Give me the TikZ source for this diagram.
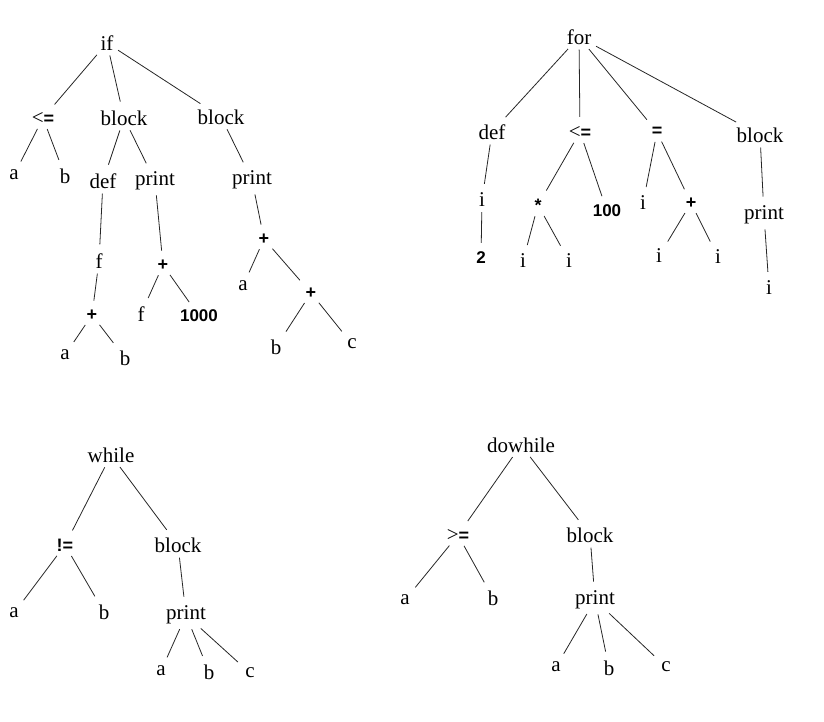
\documentclass[tikz,border=0pt]{standalone}
\usepackage{fontspec}
\setmainfont{Liberation Serif}
\newfontfamily\opsans{Liberation Sans}
\tikzset{
  w/.style={inner sep=2pt, font=\fontsize{21}{25}\selectfont},
  op/.style={inner sep=2pt, font=\opsans\fontsize{18}{21}\selectfont\bfseries},
  num/.style={inner sep=2pt, font=\opsans\fontsize{17}{20}\selectfont\bfseries},
  br/.style={draw=black!85, line width=0.8pt, shorten >=7pt, shorten <=3pt}
}
\newcommand{\thinlt}{{\fontsize{21}{25}\selectfont\rmfamily\mdseries <}}
\newcommand{\thingt}{{\fontsize{21}{25}\selectfont\rmfamily\mdseries >}}
\begin{document}
\begin{tikzpicture}[x=1pt,y=-1pt]
\useasboundingbox (0,0) rectangle (824,721);
% ---------- if tree ----------
\node[w] (if) at (107,43) {if};
\node[op] (le1) at (43,118) {\thinlt=};
\node[w] (blk1) at (124,118) {block};
\node[w] (blk2) at (221,117) {block};
\node[w] (a1) at (14,175) {a};
\node[w] (b1) at (65,176) {b};
\node[w] (def1) at (103,181) {def};
\node[w] (pr1) at (155,181) {print};
\node[w] (pr2) at (252,180) {print};
\node[w] (f1) at (99,261) {f};
\node[op] (pl1) at (163,265) {+};
\node[op] (pl2) at (264,239) {+};
\node[op] (pl3) at (92,315) {+};
\node[w] (f2) at (141,314) {f};
\node[num] (n1000) at (199,316) {1000};
\node[w] (a2) at (243,286) {a};
\node[op] (pl4) at (311,293) {+};
\node[w] (a3) at (65,355) {a};
\node[w] (b2) at (125,358) {b};
\node[w] (b3) at (276,347) {b};
\node[w] (c1) at (352,344) {c};
\foreach \p/\c in {if/le1,if/blk1,if/blk2,le1/a1,le1/b1,blk1/def1,blk1/pr1,blk2/pr2,
  def1/f1,pr1/pl1,pr2/pl2,f1/pl3,pl1/f2,pl1/n1000,pl2/a2,pl2/pl4,pl3/a3,pl3/b2,pl4/b3,pl4/c1}
  \draw[br] (\p) -- (\c);
% ---------- for tree ----------
\node[w] (for) at (579,37) {for};
\node[w] (def2) at (492,132) {def};
\node[op] (le2) at (580,132) {\thinlt=};
\node[op] (eq) at (657,132) {=};
\node[w] (blk3) at (760,135) {block};
\node[w] (i1) at (482,200) {i};
\node[op] (st) at (538,205) {*};
\node[num] (n100) at (607,211) {100};
\node[w] (i2) at (643,203) {i};
\node[op] (pl5) at (691,203) {+};
\node[w] (pr3) at (764,215) {print};
\node[num] (n2) at (481,258) {2};
\node[w] (i3) at (523,261) {i};
\node[w] (i4) at (569,261) {i};
\node[w] (i5) at (659,256) {i};
\node[w] (i6) at (718,257) {i};
\node[w] (i7) at (769,288) {i};
\foreach \p/\c in {for/def2,for/le2,for/eq,for/blk3,def2/i1,le2/st,le2/n100,eq/i2,eq/pl5,
  blk3/pr3,i1/n2,st/i3,st/i4,pl5/i5,pl5/i6,pr3/i7}
  \draw[br] (\p) -- (\c);
% ---------- while tree ----------
\node[w] (while) at (111,455) {while};
\node[op] (ne) at (65,545) {!=};
\node[w] (blk4) at (178,545) {block};
\node[w] (a4) at (14,613) {a};
\node[w] (b4) at (104,612) {b};
\node[w] (pr4) at (186,615) {print};
\node[w] (a5) at (161,671) {a};
\node[w] (b5) at (209,672) {b};
\node[w] (c2) at (250,673) {c};
\foreach \p/\c in {while/ne,while/blk4,ne/a4,ne/b4,blk4/pr4,pr4/a5,pr4/b5,pr4/c2}
  \draw[br] (\p) -- (\c);
% ---------- dowhile tree ----------
\node[w] (dw) at (521,445) {dowhile};
\node[op] (ge) at (458,535) {\thingt=};
\node[w] (blk5) at (590,535) {block};
\node[w] (a6) at (405,600) {a};
\node[w] (b6) at (493,598) {b};
\node[w] (pr5) at (595,600) {print};
\node[w] (a7) at (556,667) {a};
\node[w] (b7) at (609,668) {b};
\node[w] (c3) at (666,667) {c};
\foreach \p/\c in {dw/ge,dw/blk5,ge/a6,ge/b6,blk5/pr5,pr5/a7,pr5/b7,pr5/c3}
  \draw[br] (\p) -- (\c);
\end{tikzpicture}
\end{document}
